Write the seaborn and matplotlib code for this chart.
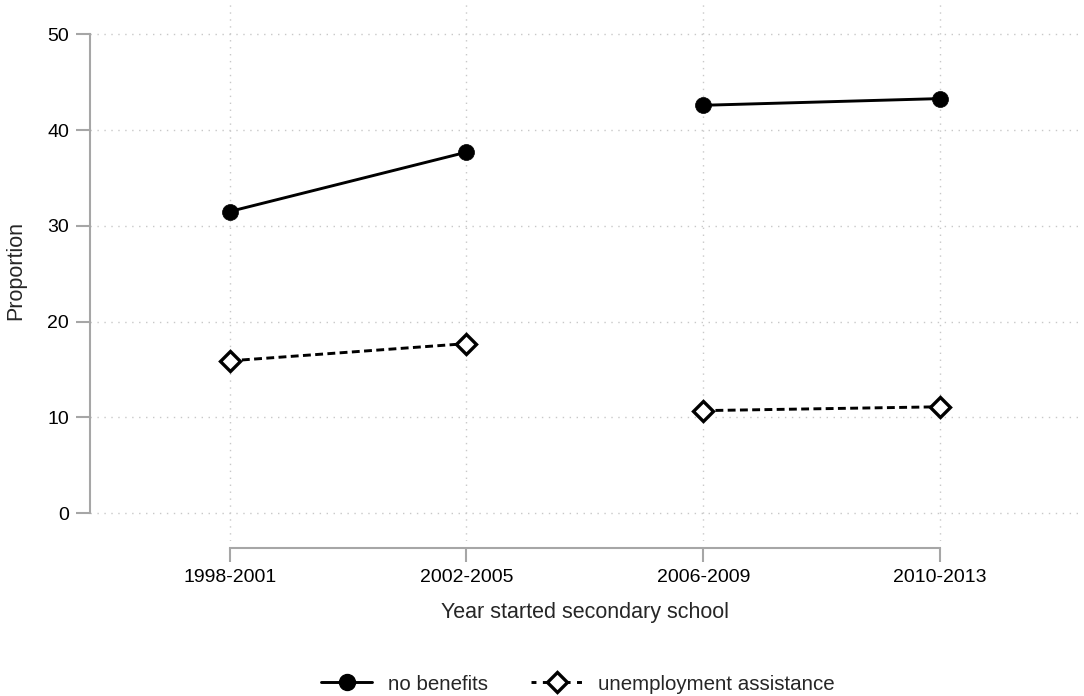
import matplotlib
matplotlib.use('Agg')
import matplotlib.pyplot as plt
from matplotlib.lines import Line2D
import pandas as pd
import seaborn as sns

# ── data ─────────────────────────────────────────────
periods      = ['1998-2001', '2002-2005', '2006-2009', '2010-2013']
segment      = [1, 1, 2, 2]          # the series are broken between 2005 and 2006
no_benefits  = [31.5, 37.7, 42.6, 43.3]
unemp_assist = [15.9, 17.7, 10.7, 11.1]
series_names = ['no benefits', 'unemployment assistance']

df = pd.concat([
    pd.DataFrame({'period': periods, 'seg': segment, 'value': no_benefits, 'series': series_names[0]}),
    pd.DataFrame({'period': periods, 'seg': segment, 'value': unemp_assist, 'series': series_names[1]}),
], ignore_index=True)

# ── style ────────────────────────────────────────────
sns.set_style('white')
plt.rcParams['font.family'] = ['Liberation Sans', 'DejaVu Sans']
GRID  = '#c8c8c8'
SPINE = '#a6a6a6'
LW    = 2.1
DASH  = (2.7, 1.5)

fig = plt.figure(figsize=(10.84, 6.96), dpi=100)
ax = fig.add_axes([0.083, 0.223, 0.913, 0.777])

sns.lineplot(data=df, x='period', y='value', hue='series', style='series',
             units='seg', estimator=None, sort=False,
             palette={n: 'black' for n in series_names},
             dashes={series_names[0]: '', series_names[1]: DASH},
             markers={series_names[0]: 'o', series_names[1]: 'D'},
             linewidth=LW, legend=False, ax=ax)

# Stata-like markers: big filled dot, hollow diamond
for ln in ax.lines:
    ln.set_markeredgecolor('black')
    if ln.get_marker() == 'D':
        ln.set_markerfacecolor('white')
        ln.set_markersize(10.5)
        ln.set_markeredgewidth(2.4)
    else:
        ln.set_markersize(11.5)
        ln.set_markeredgewidth(0.5)

ax.set_xlim(-0.59, 3.59)
ax.set_ylim(-2.9, 53.6)
ax.set_yticks([0, 10, 20, 30, 40, 50])
ax.grid(True, color=GRID, linestyle=(0, (1, 4)), linewidth=1)
ax.set_axisbelow(True)

for s in ['top', 'right']:
    ax.spines[s].set_visible(False)
ax.spines['left'].set_bounds(0, 50)
ax.spines['bottom'].set_bounds(0, 3)
ax.spines['bottom'].set_position(('outward', 5))
for s in ['left', 'bottom']:
    ax.spines[s].set_color(SPINE)
    ax.spines[s].set_linewidth(1.5)

ax.tick_params(axis='both', which='major', length=10, width=1.5, color=SPINE,
               labelsize=14, labelcolor='black', pad=5, left=True, bottom=True)

ax.set_xlabel('Year started secondary school', fontsize=15.5, labelpad=12)
ax.set_ylabel('Proportion', fontsize=15.5, labelpad=15)

handles = [
    Line2D([], [], color='black', linewidth=LW, marker='o', markersize=11.5),
    Line2D([], [], color='black', linewidth=LW, linestyle=(0, (1.7, 2.2)), marker='D',
           markersize=10.5, markerfacecolor='white', markeredgewidth=2.4),
]
fig.legend(handles, series_names, loc='lower center', bbox_to_anchor=(0.533, -0.023),
           ncol=2, frameon=False, fontsize=14.8, handlelength=2.5,
           handletextpad=0.75, columnspacing=2.1)

fig.savefig('out.png', dpi=100, facecolor='white')
